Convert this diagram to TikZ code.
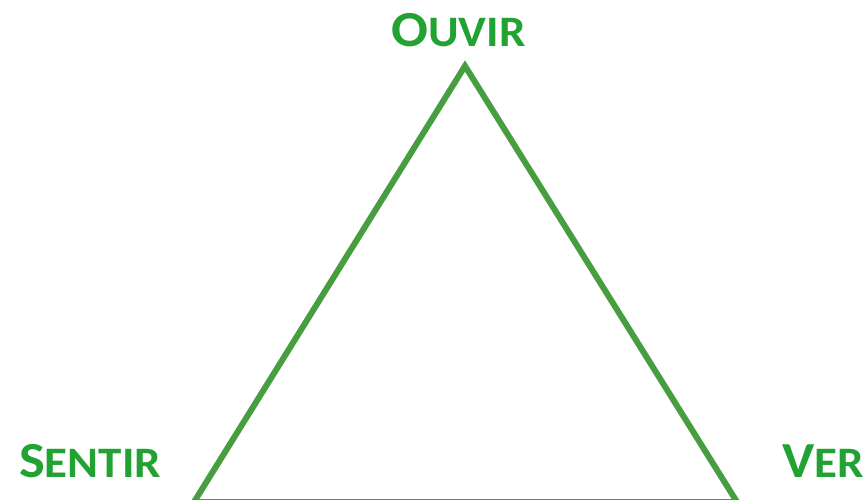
\documentclass[tikz,border=0pt]{standalone}
\usepackage{fontspec}
\setmainfont{Carlito}
\definecolor{txtgreen}{HTML}{22A232}
\definecolor{linegreen}{HTML}{479E40}
\newcommand{\bigc}[1]{{\fontsize{50.5}{50.5}\selectfont #1}}
\newcommand{\smc}[1]{{\fontsize{43.5}{43.5}\selectfont #1}}
\newcommand{\wordsc}[2]{\scalebox{1.08}[1]{\bigc{#1}\smc{#2}}}
\tikzset{
  lbl/.style={inner sep=0pt, anchor=base west, text=txtgreen, font=\bfseries},
  tri/.style={draw=linegreen, line width=6pt, line join=miter}
}
\begin{document}
\begin{tikzpicture}[x=1pt,y=-1pt]
\useasboundingbox (0,0) rectangle (864,500);
\clip (0,0) rectangle (864,500);
\coordinate (top) at (465,66);
\coordinate (bl) at (194,502);
\coordinate (br) at (737,502);
\draw[tri] (top) -- (br) -- (bl) -- cycle;
\node[lbl] (ouvir) at (391,47) {\wordsc{O}{UVIR}};
\node[lbl] (sentir) at (19,477) {\wordsc{S}{ENTIR}};
\node[lbl] (ver) at (782,477) {\wordsc{V}{ER}};
\end{tikzpicture}
\end{document}
